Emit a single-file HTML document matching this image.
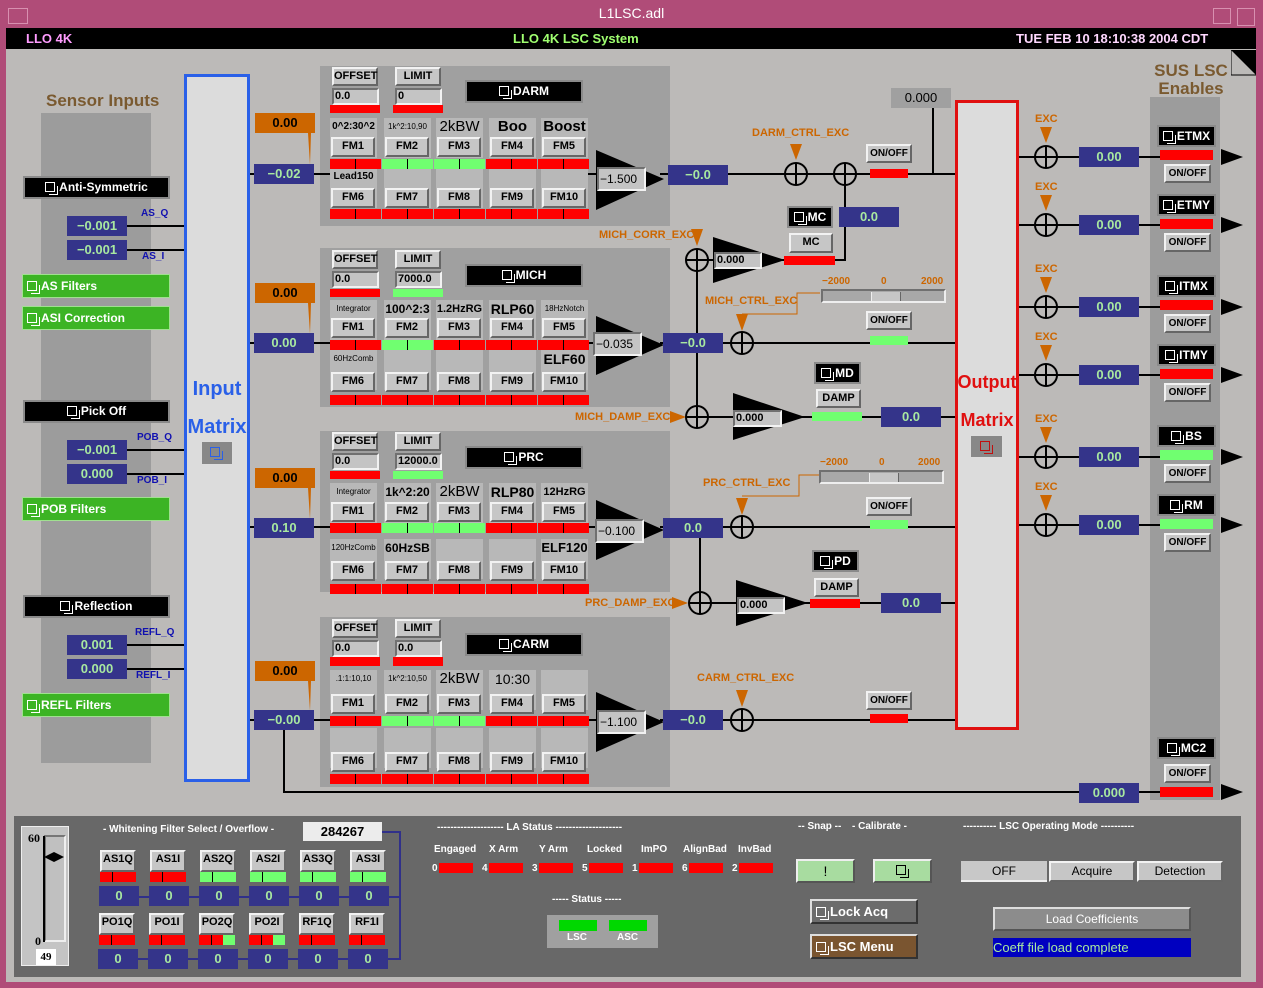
<!DOCTYPE html>
<html><head><meta charset="utf-8"><style>
*{margin:0;padding:0}
body{width:1263px;height:988px;position:relative;overflow:hidden;background:#b04c78;font-family:"Liberation Sans",sans-serif;font-weight:bold}
.p{position:absolute}
.b{position:absolute;box-sizing:border-box;background:#c6c6c6;border:2px solid;border-color:#f2f2f2 #666 #666 #f2f2f2;font-size:11px;text-align:center;color:#000;line-height:15px}
.k{position:absolute;box-sizing:border-box;background:#000;border:2px solid #8a8a8a;color:#fff;font-size:12px;text-align:center;line-height:18px}
.n{position:absolute;background:#34348a;color:#a8e8a0;font-size:13px;text-align:center;line-height:20px;height:20px;width:60px}
.i{position:absolute;box-sizing:border-box;background:#c4c4c4;border:2px solid;border-color:#707070 #f2f2f2 #f2f2f2 #707070;font-size:11px;line-height:13px;padding-left:1px;color:#000}
.R{position:absolute;background:linear-gradient(90deg,#f00 25px,#000 25px,#000 26px,#f00 26px);height:10px;width:51px}
.G{position:absolute;background:linear-gradient(90deg,#70ff70 25px,#000 25px,#000 26px,#70ff70 26px);height:10px;width:51px}
.r{position:absolute;background:#f00}.g{position:absolute;background:#70ff70}
.c{position:absolute;background:#b8b8b8;width:47px;height:40px;text-align:center;color:#000;overflow:hidden;white-space:nowrap}
.c span{display:block;line-height:18px}
.bank{position:absolute;left:320px;width:350px;background:#a0a0a0}
.ic{display:inline-block;width:8px;height:8px;border:1px solid currentColor;position:relative;margin-right:4px;vertical-align:-1px}
.ic:after{content:"";position:absolute;left:3px;top:3px;width:8px;height:8px;border:1px solid currentColor;border-left:none;border-top:none}
.o{position:absolute;color:#cc6600;font-size:11px}
.lb{position:absolute;color:#1010b0;font-size:10px}
.w{position:absolute;color:#fff;font-size:10px;white-space:pre}
.sm{font-size:8px;font-weight:normal}
</style></head><body>
<!-- title -->
<div class="p" style="left:8px;top:8px;width:18px;height:14px;border:1px solid #d890b0"></div>
<div class="p" style="left:0;top:4px;width:1263px;text-align:center;color:#fff;font-size:14px;line-height:18px;font-weight:normal">L1LSC.adl</div>
<div class="p" style="left:1213px;top:8px;width:16px;height:14px;border:1px solid #d890b0"></div>
<div class="p" style="left:1237px;top:8px;width:16px;height:16px;border:1px solid #d890b0"></div>
<div class="p" style="left:6px;top:28px;width:1250px;height:21px;background:#000"></div>
<div class="p" style="left:26px;top:31px;color:#ff9cff;font-size:13px">LLO 4K</div>
<div class="p" style="left:513px;top:31px;color:#a0ff70;font-size:13px">LLO 4K LSC System</div>
<div class="p" style="left:1016px;top:31px;color:#ffd8ff;font-size:13px">TUE FEB 10 18:10:38 2004 CDT</div>
<div class="p" style="left:6px;top:49px;width:1250px;height:933px;background:#bcbab8"></div>
<svg class="p" style="left:1231px;top:50px" width="26" height="26"><polygon points="0,0 25,0 25,25" fill="#000"/><polyline points="0,0 0,25 25,25" fill="none" stroke="#000"/></svg>

<!-- left -->
<div class="p" style="left:46px;top:91px;color:#7a5a30;font-size:17px">Sensor Inputs</div>
<div class="p" style="left:41px;top:113px;width:110px;height:650px;background:#9c9c9c"></div>
<div class="p" style="left:1150px;top:97px;width:70px;height:703px;background:#9c9c9c"></div>
<div class="p" style="left:1152px;top:62px;color:#7a5a30;font-size:17px;line-height:18px;text-align:center;width:78px">SUS LSC<br>Enables</div>

<!-- banks -->
<div class="bank" style="top:66px;height:160px"></div>
<div class="bank" style="top:248px;height:159px"></div>
<div class="bank" style="top:431px;height:161px"></div>
<div class="bank" style="top:617px;height:170px"></div>

<!-- matrices -->
<div class="p" style="left:184px;top:74px;width:60px;height:702px;background:#dcdcdc;border:3px solid #2a60e8"></div>
<div class="p" style="left:184px;top:370px;width:66px;text-align:center;color:#2a60e8;font-size:20px;line-height:38px">Input<br>Matrix</div>
<div class="p" style="left:201px;top:441px;width:32px;height:24px;background:#888;border:1px solid #ddd;box-sizing:border-box;color:#2a60e8;text-align:center;line-height:20px"><span class="ic"></span></div>
<div class="p" style="left:955px;top:100px;width:58px;height:624px;background:#dcdcdc;border:3px solid #e01010"></div>
<div class="p" style="left:955px;top:363px;width:64px;text-align:center;color:#e01010;font-size:18px;line-height:38px">Output<br>Matrix</div>
<div class="p" style="left:970px;top:435px;width:33px;height:23px;background:#888;border:1px solid #ddd;box-sizing:border-box;color:#c01010;text-align:center;line-height:20px"><span class="ic"></span></div>

<svg class="p" style="left:0;top:0" width="1263" height="988">
<g stroke="#000" stroke-width="2" fill="none">
<line x1="127" y1="226" x2="184" y2="226"/><line x1="127" y1="250" x2="184" y2="250"/>
<line x1="127" y1="450" x2="184" y2="450"/><line x1="127" y1="474" x2="184" y2="474"/>
<line x1="127" y1="645" x2="184" y2="645"/><line x1="127" y1="669" x2="184" y2="669"/>
<line x1="250" y1="174" x2="330" y2="174"/><line x1="250" y1="343" x2="330" y2="343"/>
<line x1="250" y1="527" x2="330" y2="527"/><line x1="250" y1="720" x2="330" y2="720"/>
<line x1="586" y1="174" x2="596" y2="174"/><line x1="586" y1="343" x2="596" y2="343"/><line x1="586" y1="527" x2="596" y2="527"/><line x1="586" y1="720" x2="596" y2="720"/>
<line x1="660" y1="174" x2="955" y2="174"/><line x1="660" y1="343" x2="955" y2="343"/>
<line x1="660" y1="527" x2="955" y2="527"/><line x1="660" y1="720" x2="955" y2="720"/>
<line x1="933" y1="108" x2="933" y2="174"/>
<polyline points="845,174 845,260 835,260"/>
<line x1="697" y1="260" x2="784" y2="260"/><line x1="697" y1="260" x2="697" y2="417"/>
<line x1="697" y1="417" x2="955" y2="417"/>
<line x1="700" y1="527" x2="700" y2="603"/><line x1="700" y1="603" x2="955" y2="603"/>
<polyline points="284,730 284,792 1160,792"/>
<line x1="1019" y1="157" x2="1160" y2="157"/><line x1="1019" y1="225" x2="1160" y2="225"/>
<line x1="1019" y1="307" x2="1160" y2="307"/><line x1="1019" y1="375" x2="1160" y2="375"/>
<line x1="1019" y1="457" x2="1160" y2="457"/><line x1="1019" y1="525" x2="1160" y2="525"/>
</g>
<g stroke="#cc6600" stroke-width="1" fill="none">
<polyline points="820,293 797,293 797,314 742,314"/>
<polyline points="819,475 799,475 799,496 742,496"/>
</g>
<g fill="#000">
<polygon points="596,150 596,210 664,179"/><polygon points="596,316 596,375 664,345"/>
<polygon points="596,500 596,560 664,530"/><polygon points="596,692 596,752 664,722"/>
<polygon points="713,237 713,283 785,260"/><polygon points="733,393 733,440 805,417"/>
<polygon points="736,580 736,626 808,603"/>
<polygon points="1221,149 1221,165 1243,157"/><polygon points="1221,217 1221,233 1243,225"/>
<polygon points="1221,299 1221,315 1243,307"/><polygon points="1221,367 1221,383 1243,375"/>
<polygon points="1221,449 1221,465 1243,457"/><polygon points="1221,517 1221,533 1243,525"/>
<polygon points="1221,784 1221,800 1243,792"/>
</g>
<g fill="#cc6600">
<polygon points="255,113 315,113 315,133 311,133 310,165 308,133 255,133"/>
<polygon points="255,283 315,283 315,303 311,303 310,334 308,303 255,303"/>
<polygon points="255,468 315,468 315,488 311,488 310,519 308,488 255,488"/>
<polygon points="255,661 315,661 315,681 311,681 310,711 308,681 255,681"/>
<polygon points="790,144 802,144 796,160"/><polygon points="691,229 703,229 697,246"/>
<polygon points="736,314 748,314 742,331"/><polygon points="736,498 748,498 742,515"/>
<polygon points="736,690 748,690 742,707"/>
<polygon points="670,411 670,423 686,417"/><polygon points="672,597 672,609 688,603"/>
<polygon points="1040,127 1052,127 1046,143"/><polygon points="1040,195 1052,195 1046,211"/>
<polygon points="1040,277 1052,277 1046,293"/><polygon points="1040,345 1052,345 1046,361"/>
<polygon points="1040,427 1052,427 1046,443"/><polygon points="1040,495 1052,495 1046,511"/>
</g>
<g stroke="#000" stroke-width="2" fill="none">
<circle cx="796" cy="174" r="11"/><path d="M796 163V185M785 174H807"/>
<circle cx="845" cy="174" r="11"/><path d="M845 163V185M834 174H856"/>
<circle cx="697" cy="260" r="11"/><path d="M697 249V271M686 260H708"/>
<circle cx="742" cy="343" r="11"/><path d="M742 332V354M731 343H753"/>
<circle cx="697" cy="417" r="11"/><path d="M697 406V428M686 417H708"/>
<circle cx="742" cy="527" r="11"/><path d="M742 516V538M731 527H753"/>
<circle cx="700" cy="603" r="11"/><path d="M700 592V614M689 603H711"/>
<circle cx="742" cy="720" r="11"/><path d="M742 709V731M731 720H753"/>
<circle cx="1046" cy="157" r="11"/><path d="M1046 146V168M1035 157H1057"/>
<circle cx="1046" cy="225" r="11"/><path d="M1046 214V236M1035 225H1057"/>
<circle cx="1046" cy="307" r="11"/><path d="M1046 296V318M1035 307H1057"/>
<circle cx="1046" cy="375" r="11"/><path d="M1046 364V386M1035 375H1057"/>
<circle cx="1046" cy="457" r="11"/><path d="M1046 446V468M1035 457H1057"/>
<circle cx="1046" cy="525" r="11"/><path d="M1046 514V536M1035 525H1057"/>
</g>
</svg>

<!-- left widgets -->
<div class="k" style="left:23px;top:176px;width:147px;height:23px"><span class="ic"></span>Anti-Symmetric</div>
<div class="n" style="left:67px;top:216px">−0.001</div><div class="n" style="left:67px;top:240px">−0.001</div>
<div class="lb" style="left:141px;top:208px">AS_Q</div><div class="lb" style="left:142px;top:251px">AS_I</div>
<div class="p" style="left:22px;top:274px;width:148px;height:24px;background:#3cb424;border:1px solid #a0e090;box-sizing:border-box;color:#fff;font-size:12px;line-height:22px;padding-left:4px"><span class="ic"></span>AS Filters</div>
<div class="p" style="left:22px;top:306px;width:148px;height:24px;background:#3cb424;border:1px solid #a0e090;box-sizing:border-box;color:#fff;font-size:12px;line-height:22px;padding-left:4px"><span class="ic"></span>ASI Correction</div>
<div class="k" style="left:23px;top:400px;width:147px;height:23px"><span class="ic"></span>Pick Off</div>
<div class="n" style="left:67px;top:440px">−0.001</div><div class="n" style="left:67px;top:464px">0.000</div>
<div class="lb" style="left:137px;top:432px">POB_Q</div><div class="lb" style="left:137px;top:475px">POB_I</div>
<div class="p" style="left:22px;top:497px;width:148px;height:24px;background:#3cb424;border:1px solid #a0e090;box-sizing:border-box;color:#fff;font-size:12px;line-height:22px;padding-left:4px"><span class="ic"></span>POB Filters</div>
<div class="k" style="left:23px;top:595px;width:147px;height:23px"><span class="ic"></span>Reflection</div>
<div class="n" style="left:67px;top:635px">0.001</div><div class="n" style="left:67px;top:659px">0.000</div>
<div class="lb" style="left:135px;top:627px">REFL_Q</div><div class="lb" style="left:136px;top:670px">REFL_I</div>
<div class="p" style="left:22px;top:693px;width:148px;height:24px;background:#3cb424;border:1px solid #a0e090;box-sizing:border-box;color:#fff;font-size:12px;line-height:22px;padding-left:4px"><span class="ic"></span>REFL Filters</div>

<div class="p" style="left:255px;top:113px;width:60px;text-align:center;font-size:13px;line-height:20px">0.00</div>
<div class="p" style="left:255px;top:283px;width:60px;text-align:center;font-size:13px;line-height:20px">0.00</div>
<div class="p" style="left:255px;top:468px;width:60px;text-align:center;font-size:13px;line-height:20px">0.00</div>
<div class="p" style="left:255px;top:661px;width:60px;text-align:center;font-size:13px;line-height:20px">0.00</div>
<div class="n" style="left:254px;top:164px">−0.02</div><div class="n" style="left:254px;top:333px">0.00</div>
<div class="n" style="left:254px;top:518px">0.10</div><div class="n" style="left:254px;top:710px">−0.00</div>

<!-- DARM bank -->
<div class="b" style="left:332px;top:67px;width:46px;height:19px">OFFSET</div><div class="i" style="left:332px;top:88px;width:47px;height:17px">0.0</div><div class="r" style="left:330px;top:105px;width:50px;height:8px"></div>
<div class="b" style="left:395px;top:67px;width:46px;height:19px">LIMIT</div><div class="i" style="left:395px;top:88px;width:47px;height:17px">0</div><div class="r" style="left:393px;top:105px;width:50px;height:8px"></div>
<div class="k" style="left:465px;top:80px;width:118px;height:23px"><span class="ic"></span>DARM</div>
<div class="c" style="left:330px;top:118px"><span style="font-size:10px">0^2:30^2</span></div>
<div class="c" style="left:384px;top:118px"><span class="sm">1k^2:10,90</span></div>
<div class="c" style="left:436px;top:118px"><span style="font-size:15px;font-weight:normal">2kBW</span></div>
<div class="c" style="left:489px;top:118px"><span style="font-size:15px">Boo</span></div>
<div class="c" style="left:541px;top:118px"><span style="font-size:15px">Boost</span></div>
<div class="c" style="left:330px;top:168px"><span style="font-size:10px">Lead150</span></div>
<div class="c" style="left:384px;top:168px"></div><div class="c" style="left:436px;top:168px"></div><div class="c" style="left:489px;top:168px"></div><div class="c" style="left:541px;top:168px"></div>
<div class="b" style="left:331px;top:137px;width:44px;height:20px">FM1</div><div class="b" style="left:385px;top:137px;width:44px;height:20px">FM2</div><div class="b" style="left:437px;top:137px;width:44px;height:20px">FM3</div><div class="b" style="left:490px;top:137px;width:44px;height:20px">FM4</div><div class="b" style="left:542px;top:137px;width:44px;height:20px">FM5</div>
<div class="b" style="left:331px;top:188px;width:44px;height:20px">FM6</div><div class="b" style="left:385px;top:188px;width:44px;height:20px">FM7</div><div class="b" style="left:437px;top:188px;width:44px;height:20px">FM8</div><div class="b" style="left:490px;top:188px;width:44px;height:20px">FM9</div><div class="b" style="left:542px;top:188px;width:44px;height:20px">FM10</div>
<div class="R" style="left:330px;top:159px"></div><div class="G" style="left:382px;top:159px"></div><div class="G" style="left:434px;top:159px"></div><div class="R" style="left:486px;top:159px"></div><div class="R" style="left:538px;top:159px"></div>
<div class="R" style="left:330px;top:209px"></div><div class="R" style="left:382px;top:209px"></div><div class="R" style="left:434px;top:209px"></div><div class="R" style="left:486px;top:209px"></div><div class="R" style="left:538px;top:209px"></div>
<div class="i" style="left:597px;top:167px;width:49px;height:24px;line-height:20px;font-size:12px;font-weight:normal">−1.500</div>

<!-- MICH bank -->
<div class="b" style="left:332px;top:250px;width:46px;height:19px">OFFSET</div><div class="i" style="left:332px;top:271px;width:47px;height:17px">0.0</div><div class="r" style="left:330px;top:289px;width:50px;height:8px"></div>
<div class="b" style="left:395px;top:250px;width:46px;height:19px">LIMIT</div><div class="i" style="left:395px;top:271px;width:47px;height:17px">7000.0</div><div class="g" style="left:393px;top:289px;width:50px;height:8px"></div>
<div class="k" style="left:465px;top:264px;width:118px;height:23px"><span class="ic"></span>MICH</div>
<div class="c" style="left:330px;top:300px"><span class="sm">Integrator</span></div>
<div class="c" style="left:384px;top:300px"><span style="font-size:12px">100^2:3</span></div>
<div class="c" style="left:436px;top:300px"><span style="font-size:11px">1.2HzRG</span></div>
<div class="c" style="left:489px;top:300px"><span style="font-size:14px">RLP60</span></div>
<div class="c" style="left:541px;top:300px"><span class="sm">18HzNotch</span></div>
<div class="c" style="left:330px;top:350px"><span class="sm">60HzComb</span></div>
<div class="c" style="left:384px;top:350px"></div><div class="c" style="left:436px;top:350px"></div><div class="c" style="left:489px;top:350px"></div>
<div class="c" style="left:541px;top:350px"><span style="font-size:14px">ELF60</span></div>
<div class="b" style="left:331px;top:318px;width:44px;height:20px">FM1</div><div class="b" style="left:385px;top:318px;width:44px;height:20px">FM2</div><div class="b" style="left:437px;top:318px;width:44px;height:20px">FM3</div><div class="b" style="left:490px;top:318px;width:44px;height:20px">FM4</div><div class="b" style="left:542px;top:318px;width:44px;height:20px">FM5</div>
<div class="b" style="left:331px;top:372px;width:44px;height:20px">FM6</div><div class="b" style="left:385px;top:372px;width:44px;height:20px">FM7</div><div class="b" style="left:437px;top:372px;width:44px;height:20px">FM8</div><div class="b" style="left:490px;top:372px;width:44px;height:20px">FM9</div><div class="b" style="left:542px;top:372px;width:44px;height:20px">FM10</div>
<div class="R" style="left:330px;top:340px"></div><div class="G" style="left:382px;top:340px"></div><div class="R" style="left:434px;top:340px"></div><div class="R" style="left:486px;top:340px"></div><div class="R" style="left:538px;top:340px"></div>
<div class="R" style="left:330px;top:395px"></div><div class="R" style="left:382px;top:395px"></div><div class="R" style="left:434px;top:395px"></div><div class="R" style="left:486px;top:395px"></div><div class="R" style="left:538px;top:395px"></div>
<div class="i" style="left:593px;top:332px;width:49px;height:24px;line-height:20px;font-size:12px;font-weight:normal">−0.035</div>

<!-- PRC bank -->
<div class="b" style="left:332px;top:432px;width:46px;height:19px">OFFSET</div><div class="i" style="left:332px;top:453px;width:47px;height:17px">0.0</div><div class="r" style="left:330px;top:471px;width:50px;height:8px"></div>
<div class="b" style="left:395px;top:432px;width:46px;height:19px">LIMIT</div><div class="i" style="left:395px;top:453px;width:47px;height:17px">12000.0</div><div class="g" style="left:393px;top:471px;width:50px;height:8px"></div>
<div class="k" style="left:465px;top:446px;width:118px;height:23px"><span class="ic"></span>PRC</div>
<div class="c" style="left:330px;top:483px"><span class="sm">Integrator</span></div>
<div class="c" style="left:384px;top:483px"><span style="font-size:12px">1k^2:20</span></div>
<div class="c" style="left:436px;top:483px"><span style="font-size:15px;font-weight:normal">2kBW</span></div>
<div class="c" style="left:489px;top:483px"><span style="font-size:14px">RLP80</span></div>
<div class="c" style="left:541px;top:483px"><span style="font-size:11px">12HzRG</span></div>
<div class="c" style="left:330px;top:539px"><span class="sm">120HzComb</span></div>
<div class="c" style="left:384px;top:539px"><span style="font-size:12px">60HzSB</span></div>
<div class="c" style="left:436px;top:539px"></div><div class="c" style="left:489px;top:539px"></div>
<div class="c" style="left:541px;top:539px"><span style="font-size:13px">ELF120</span></div>
<div class="b" style="left:331px;top:502px;width:44px;height:20px">FM1</div><div class="b" style="left:385px;top:502px;width:44px;height:20px">FM2</div><div class="b" style="left:437px;top:502px;width:44px;height:20px">FM3</div><div class="b" style="left:490px;top:502px;width:44px;height:20px">FM4</div><div class="b" style="left:542px;top:502px;width:44px;height:20px">FM5</div>
<div class="b" style="left:331px;top:561px;width:44px;height:20px">FM6</div><div class="b" style="left:385px;top:561px;width:44px;height:20px">FM7</div><div class="b" style="left:437px;top:561px;width:44px;height:20px">FM8</div><div class="b" style="left:490px;top:561px;width:44px;height:20px">FM9</div><div class="b" style="left:542px;top:561px;width:44px;height:20px">FM10</div>
<div class="R" style="left:330px;top:523px"></div><div class="G" style="left:382px;top:523px"></div><div class="G" style="left:434px;top:523px"></div><div class="R" style="left:486px;top:523px"></div><div class="R" style="left:538px;top:523px"></div>
<div class="R" style="left:330px;top:584px"></div><div class="R" style="left:382px;top:584px"></div><div class="R" style="left:434px;top:584px"></div><div class="R" style="left:486px;top:584px"></div><div class="R" style="left:538px;top:584px"></div>
<div class="i" style="left:595px;top:519px;width:49px;height:24px;line-height:20px;font-size:12px;font-weight:normal">−0.100</div>

<!-- CARM bank -->
<div class="b" style="left:332px;top:619px;width:46px;height:19px">OFFSET</div><div class="i" style="left:332px;top:640px;width:47px;height:17px">0.0</div><div class="r" style="left:330px;top:657px;width:50px;height:9px"></div>
<div class="b" style="left:395px;top:619px;width:46px;height:19px">LIMIT</div><div class="i" style="left:395px;top:640px;width:47px;height:17px">0.0</div><div class="r" style="left:393px;top:657px;width:50px;height:9px"></div>
<div class="k" style="left:465px;top:633px;width:118px;height:23px"><span class="ic"></span>CARM</div>
<div class="c" style="left:330px;top:670px"><span class="sm">.1:1:10,10</span></div>
<div class="c" style="left:384px;top:670px"><span class="sm">1k^2:10,50</span></div>
<div class="c" style="left:436px;top:670px"><span style="font-size:15px;font-weight:normal">2kBW</span></div>
<div class="c" style="left:489px;top:670px"><span style="font-size:14px;font-weight:normal">10:30</span></div>
<div class="c" style="left:541px;top:670px"></div>
<div class="c" style="left:330px;top:728px"></div><div class="c" style="left:384px;top:728px"></div><div class="c" style="left:436px;top:728px"></div><div class="c" style="left:489px;top:728px"></div><div class="c" style="left:541px;top:728px"></div>
<div class="b" style="left:331px;top:694px;width:44px;height:20px">FM1</div><div class="b" style="left:385px;top:694px;width:44px;height:20px">FM2</div><div class="b" style="left:437px;top:694px;width:44px;height:20px">FM3</div><div class="b" style="left:490px;top:694px;width:44px;height:20px">FM4</div><div class="b" style="left:542px;top:694px;width:44px;height:20px">FM5</div>
<div class="b" style="left:331px;top:752px;width:44px;height:20px">FM6</div><div class="b" style="left:385px;top:752px;width:44px;height:20px">FM7</div><div class="b" style="left:437px;top:752px;width:44px;height:20px">FM8</div><div class="b" style="left:490px;top:752px;width:44px;height:20px">FM9</div><div class="b" style="left:542px;top:752px;width:44px;height:20px">FM10</div>
<div class="R" style="left:330px;top:716px"></div><div class="G" style="left:382px;top:716px"></div><div class="G" style="left:434px;top:716px"></div><div class="R" style="left:486px;top:716px"></div><div class="R" style="left:538px;top:716px"></div>
<div class="R" style="left:330px;top:774px"></div><div class="R" style="left:382px;top:774px"></div><div class="R" style="left:434px;top:774px"></div><div class="R" style="left:486px;top:774px"></div><div class="R" style="left:538px;top:774px"></div>
<div class="i" style="left:597px;top:710px;width:49px;height:24px;line-height:20px;font-size:12px;font-weight:normal">−1.100</div>

<!-- middle controls -->
<div class="n" style="left:668px;top:165px">−0.0</div>
<div class="n" style="left:663px;top:333px">−0.0</div>
<div class="n" style="left:663px;top:518px">0.0</div>
<div class="n" style="left:663px;top:710px">−0.0</div>
<div class="p" style="left:891px;top:88px;width:60px;height:20px;background:#a0a0a0;text-align:center;font-size:13px;line-height:20px;font-weight:normal">0.000</div>
<div class="o" style="left:752px;top:127px">DARM_CTRL_EXC</div>
<div class="b" style="left:866px;top:144px;width:46px;height:19px;font-size:10px">ON/OFF</div><div class="r" style="left:870px;top:169px;width:38px;height:9px"></div>
<div class="k" style="left:787px;top:206px;width:46px;height:22px"><span class="ic"></span>MC</div>
<div class="b" style="left:789px;top:233px;width:44px;height:20px">MC</div><div class="r" style="left:784px;top:256px;width:51px;height:9px"></div>
<div class="n" style="left:839px;top:207px">0.0</div>
<div class="o" style="left:599px;top:229px">MICH_CORR_EXC</div>
<div class="i" style="left:714px;top:252px;width:48px;height:17px;line-height:13px">0.000</div>
<div class="o" style="left:822px;top:276px;font-size:10px">−2000</div><div class="o" style="left:881px;top:276px;font-size:10px">0</div><div class="o" style="left:921px;top:276px;font-size:10px">2000</div>
<div class="p" style="left:821px;top:289px;width:125px;height:14px;background:#a8a8a8;border:2px solid;border-color:#707070 #eee #eee #707070;box-sizing:border-box"><div class="p" style="left:48px;top:1px;width:28px;height:9px;background:#c6c6c6;border-left:1px solid #eee;border-right:1px solid #666"></div></div>
<div class="o" style="left:705px;top:295px">MICH_CTRL_EXC</div>
<div class="b" style="left:866px;top:311px;width:46px;height:19px;font-size:10px">ON/OFF</div><div class="g" style="left:870px;top:336px;width:38px;height:9px"></div>
<div class="k" style="left:814px;top:362px;width:47px;height:22px"><span class="ic"></span>MD</div>
<div class="b" style="left:816px;top:389px;width:45px;height:19px">DAMP</div><div class="g" style="left:812px;top:412px;width:50px;height:9px"></div>
<div class="n" style="left:881px;top:407px">0.0</div>
<div class="o" style="left:575px;top:411px">MICH_DAMP_EXC</div>
<div class="i" style="left:733px;top:410px;width:49px;height:17px;line-height:13px">0.000</div>
<div class="o" style="left:820px;top:457px;font-size:10px">−2000</div><div class="o" style="left:879px;top:457px;font-size:10px">0</div><div class="o" style="left:918px;top:457px;font-size:10px">2000</div>
<div class="p" style="left:819px;top:470px;width:125px;height:14px;background:#a8a8a8;border:2px solid;border-color:#707070 #eee #eee #707070;box-sizing:border-box"><div class="p" style="left:48px;top:1px;width:28px;height:9px;background:#c6c6c6;border-left:1px solid #eee;border-right:1px solid #666"></div></div>
<div class="o" style="left:703px;top:477px">PRC_CTRL_EXC</div>
<div class="b" style="left:866px;top:497px;width:46px;height:19px;font-size:10px">ON/OFF</div><div class="g" style="left:870px;top:520px;width:38px;height:9px"></div>
<div class="k" style="left:812px;top:550px;width:47px;height:22px"><span class="ic"></span>PD</div>
<div class="b" style="left:814px;top:578px;width:45px;height:19px">DAMP</div><div class="r" style="left:810px;top:599px;width:50px;height:9px"></div>
<div class="n" style="left:881px;top:593px">0.0</div>
<div class="o" style="left:585px;top:597px">PRC_DAMP_EXC</div>
<div class="i" style="left:737px;top:597px;width:48px;height:17px;line-height:13px">0.000</div>
<div class="o" style="left:697px;top:672px">CARM_CTRL_EXC</div>
<div class="b" style="left:866px;top:691px;width:46px;height:19px;font-size:10px">ON/OFF</div><div class="r" style="left:870px;top:714px;width:38px;height:9px"></div>

<!-- right -->
<div class="o" style="left:1035px;top:113px">EXC</div><div class="o" style="left:1035px;top:181px">EXC</div>
<div class="o" style="left:1035px;top:263px">EXC</div><div class="o" style="left:1035px;top:331px">EXC</div>
<div class="o" style="left:1035px;top:413px">EXC</div><div class="o" style="left:1035px;top:481px">EXC</div>
<div class="n" style="left:1079px;top:147px">0.00</div><div class="n" style="left:1079px;top:215px">0.00</div>
<div class="n" style="left:1079px;top:297px">0.00</div><div class="n" style="left:1079px;top:365px">0.00</div>
<div class="n" style="left:1079px;top:447px">0.00</div><div class="n" style="left:1079px;top:515px">0.00</div>
<div class="n" style="left:1079px;top:783px">0.000</div>
<div class="k" style="left:1157px;top:125px;width:59px;height:22px"><span class="ic"></span>ETMX</div><div class="r" style="left:1160px;top:150px;width:53px;height:10px"></div><div class="b" style="left:1164px;top:164px;width:47px;height:19px;font-size:10px">ON/OFF</div>
<div class="k" style="left:1157px;top:194px;width:59px;height:22px"><span class="ic"></span>ETMY</div><div class="r" style="left:1160px;top:219px;width:53px;height:10px"></div><div class="b" style="left:1164px;top:233px;width:47px;height:19px;font-size:10px">ON/OFF</div>
<div class="k" style="left:1157px;top:275px;width:59px;height:22px"><span class="ic"></span>ITMX</div><div class="r" style="left:1160px;top:300px;width:53px;height:10px"></div><div class="b" style="left:1164px;top:314px;width:47px;height:19px;font-size:10px">ON/OFF</div>
<div class="k" style="left:1157px;top:344px;width:59px;height:22px"><span class="ic"></span>ITMY</div><div class="r" style="left:1160px;top:369px;width:53px;height:10px"></div><div class="b" style="left:1164px;top:383px;width:47px;height:19px;font-size:10px">ON/OFF</div>
<div class="k" style="left:1157px;top:425px;width:59px;height:22px"><span class="ic"></span>BS</div><div class="g" style="left:1160px;top:450px;width:53px;height:10px"></div><div class="b" style="left:1164px;top:464px;width:47px;height:19px;font-size:10px">ON/OFF</div>
<div class="k" style="left:1157px;top:494px;width:59px;height:22px"><span class="ic"></span>RM</div><div class="g" style="left:1160px;top:519px;width:53px;height:10px"></div><div class="b" style="left:1164px;top:533px;width:47px;height:19px;font-size:10px">ON/OFF</div>
<div class="k" style="left:1157px;top:737px;width:59px;height:22px"><span class="ic"></span>MC2</div><div class="b" style="left:1164px;top:764px;width:47px;height:19px;font-size:10px">ON/OFF</div><div class="r" style="left:1160px;top:787px;width:53px;height:10px"></div>

<!-- bottom panel -->
<div class="p" style="left:14px;top:816px;width:1227px;height:161px;background:#686868"></div>
<div class="p" style="left:21px;top:826px;width:48px;height:140px;background:#c4c4c4;border:1px solid #eee;box-sizing:border-box"></div>
<div class="p" style="left:44px;top:835px;width:22px;height:107px;background:#c0c0c0;border:2px solid;border-color:#777 #eee #eee #777;box-sizing:border-box"></div>
<div class="p" style="left:43px;top:836px;width:2px;height:106px;background:#000"></div>
<div class="p" style="left:28px;top:831px;font-size:12px;font-family:'Liberation Serif',serif">60</div>
<div class="p" style="left:35px;top:934px;font-size:12px;font-family:'Liberation Serif',serif">0</div>
<svg class="p" style="left:44px;top:850px" width="22" height="14"><polygon points="0,7 10,2 20,7 10,12" fill="#000"/></svg>
<div class="p" style="left:36px;top:949px;width:20px;height:16px;background:#fff;font-size:11px;text-align:center;line-height:16px;font-family:'Liberation Serif',serif">49</div>
<div class="w" style="left:103px;top:824px">- Whitening Filter Select / Overflow -</div>
<div class="p" style="left:303px;top:822px;width:79px;height:19px;background:#ececec;text-align:center;font-size:13px;line-height:19px">284267</div>
<svg class="p" style="left:90px;top:830px" width="320" height="145"><g stroke="#30308a" stroke-width="2" fill="none"><polyline points="292,2 310,2 310,129 290,129"/><line x1="40" y1="67" x2="310" y2="67"/><line x1="40" y1="129" x2="290" y2="129"/></g></svg>
<div class="b" style="left:100px;top:850px;width:36px;height:22px">AS1Q</div><div class="b" style="left:150px;top:850px;width:36px;height:22px">AS1I</div><div class="b" style="left:200px;top:850px;width:36px;height:22px">AS2Q</div><div class="b" style="left:250px;top:850px;width:36px;height:22px">AS2I</div><div class="b" style="left:300px;top:850px;width:36px;height:22px">AS3Q</div><div class="b" style="left:350px;top:850px;width:36px;height:22px">AS3I</div>
<div class="R" style="left:100px;top:872px;width:36px;background:linear-gradient(90deg,#f00 12px,#000 12px,#000 13px,#f00 13px)"></div>
<div class="R" style="left:150px;top:872px;width:36px;background:linear-gradient(90deg,#f00 12px,#000 12px,#000 13px,#f00 13px)"></div>
<div class="G" style="left:200px;top:872px;width:36px;background:linear-gradient(90deg,#70ff70 12px,#000 12px,#000 13px,#70ff70 13px)"></div>
<div class="G" style="left:250px;top:872px;width:36px;background:linear-gradient(90deg,#70ff70 12px,#000 12px,#000 13px,#70ff70 13px)"></div>
<div class="G" style="left:300px;top:872px;width:36px;background:linear-gradient(90deg,#70ff70 12px,#000 12px,#000 13px,#70ff70 13px)"></div>
<div class="G" style="left:350px;top:872px;width:36px;background:linear-gradient(90deg,#70ff70 12px,#000 12px,#000 13px,#70ff70 13px)"></div>
<div class="n" style="left:99px;top:886px;width:40px">0</div><div class="n" style="left:149px;top:886px;width:40px">0</div><div class="n" style="left:199px;top:886px;width:40px">0</div><div class="n" style="left:249px;top:886px;width:40px">0</div><div class="n" style="left:299px;top:886px;width:40px">0</div><div class="n" style="left:349px;top:886px;width:40px">0</div>
<div class="b" style="left:99px;top:913px;width:36px;height:22px">PO1Q</div><div class="b" style="left:149px;top:913px;width:36px;height:22px">PO1I</div><div class="b" style="left:199px;top:913px;width:36px;height:22px">PO2Q</div><div class="b" style="left:249px;top:913px;width:36px;height:22px">PO2I</div><div class="b" style="left:299px;top:913px;width:36px;height:22px">RF1Q</div><div class="b" style="left:349px;top:913px;width:36px;height:22px">RF1I</div>
<div class="R" style="left:99px;top:935px;width:36px;background:linear-gradient(90deg,#f00 12px,#000 12px,#000 13px,#f00 13px)"></div>
<div class="R" style="left:149px;top:935px;width:36px;background:linear-gradient(90deg,#f00 12px,#000 12px,#000 13px,#f00 13px)"></div>
<div class="R" style="left:199px;top:935px;width:36px;background:linear-gradient(90deg,#f00 12px,#000 12px,#000 13px,#f00 13px,#f00 24px,#70ff70 24px)"></div>
<div class="R" style="left:249px;top:935px;width:36px;background:linear-gradient(90deg,#f00 12px,#000 12px,#000 13px,#f00 13px,#f00 24px,#70ff70 24px)"></div>
<div class="R" style="left:299px;top:935px;width:36px;background:linear-gradient(90deg,#f00 12px,#000 12px,#000 13px,#f00 13px)"></div>
<div class="R" style="left:349px;top:935px;width:36px;background:linear-gradient(90deg,#f00 12px,#000 12px,#000 13px,#f00 13px)"></div>
<div class="n" style="left:98px;top:949px;width:40px">0</div><div class="n" style="left:148px;top:949px;width:40px">0</div><div class="n" style="left:198px;top:949px;width:40px">0</div><div class="n" style="left:248px;top:949px;width:40px">0</div><div class="n" style="left:298px;top:949px;width:40px">0</div><div class="n" style="left:348px;top:949px;width:40px">0</div>

<div class="w" style="left:437px;top:822px">-------------------- LA Status --------------------</div>
<div class="w" style="left:434px;top:844px">Engaged</div><div class="w" style="left:489px;top:844px">X Arm</div><div class="w" style="left:539px;top:844px">Y Arm</div><div class="w" style="left:587px;top:844px">Locked</div><div class="w" style="left:641px;top:844px">ImPO</div><div class="w" style="left:683px;top:844px">AlignBad</div><div class="w" style="left:738px;top:844px">InvBad</div>
<div class="w" style="left:432px;top:863px">0</div><div class="r" style="left:439px;top:863px;width:34px;height:10px"></div>
<div class="w" style="left:482px;top:863px">4</div><div class="r" style="left:489px;top:863px;width:34px;height:10px"></div>
<div class="w" style="left:532px;top:863px">3</div><div class="r" style="left:539px;top:863px;width:34px;height:10px"></div>
<div class="w" style="left:582px;top:863px">5</div><div class="r" style="left:589px;top:863px;width:34px;height:10px"></div>
<div class="w" style="left:632px;top:863px">1</div><div class="r" style="left:639px;top:863px;width:34px;height:10px"></div>
<div class="w" style="left:682px;top:863px">6</div><div class="r" style="left:689px;top:863px;width:34px;height:10px"></div>
<div class="w" style="left:732px;top:863px">2</div><div class="r" style="left:739px;top:863px;width:34px;height:10px"></div>
<div class="w" style="left:552px;top:894px">----- Status -----</div>
<div class="p" style="left:547px;top:915px;width:111px;height:33px;background:#a0a0a0"></div>
<div class="p" style="left:559px;top:920px;width:38px;height:11px;background:#00d800"></div><div class="p" style="left:609px;top:920px;width:38px;height:11px;background:#00d800"></div>
<div class="w" style="left:567px;top:932px">LSC</div><div class="w" style="left:617px;top:932px">ASC</div>
<div class="w" style="left:798px;top:821px">-- Snap --</div><div class="w" style="left:852px;top:821px">- Calibrate -</div>
<div class="p" style="left:796px;top:859px;width:59px;height:24px;background:#a8dca0;border:2px solid;border-color:#eee #555 #555 #eee;box-sizing:border-box;text-align:center;font-size:14px;line-height:20px;font-weight:normal">!</div>
<div class="p" style="left:873px;top:859px;width:59px;height:24px;background:#a8dca0;border:2px solid;border-color:#eee #555 #555 #eee;box-sizing:border-box;text-align:center;line-height:18px"><span class="ic"></span></div>
<div class="p" style="left:810px;top:899px;width:108px;height:25px;background:#6c6c6c;border:2px solid;border-color:#ddd #333 #333 #ddd;box-sizing:border-box;color:#fff;font-size:13px;line-height:21px;padding-left:4px"><span class="ic"></span>Lock Acq</div>
<div class="p" style="left:810px;top:934px;width:108px;height:25px;background:#7a5530;border:2px solid;border-color:#ddd #333 #333 #ddd;box-sizing:border-box;color:#fff;font-size:13px;line-height:21px;padding-left:4px"><span class="ic"></span>LSC Menu</div>
<div class="w" style="left:963px;top:821px">---------- LSC Operating Mode ----------</div>
<div class="p" style="left:961px;top:861px;width:86px;height:21px;background:#c8c8c8;border-bottom:2px solid #eee;box-sizing:border-box;text-align:center;font-size:12px;line-height:20px;font-weight:normal">OFF</div>
<div class="b" style="left:1049px;top:861px;width:86px;height:21px;font-size:12px;font-weight:normal;line-height:17px">Acquire</div>
<div class="b" style="left:1137px;top:861px;width:86px;height:21px;font-size:12px;font-weight:normal;line-height:17px">Detection</div>
<div class="p" style="left:993px;top:907px;width:198px;height:24px;background:#8c8c8c;border:2px solid;border-color:#ddd #555 #555 #ddd;box-sizing:border-box;color:#fff;text-align:center;font-size:12px;line-height:20px;font-weight:normal">Load Coefficients</div>
<div class="p" style="left:993px;top:938px;width:198px;height:19px;background:#0000c0;color:#a8e8a0;font-size:13px;line-height:19px;font-weight:normal">Coeff file load complete</div>
</body></html>
